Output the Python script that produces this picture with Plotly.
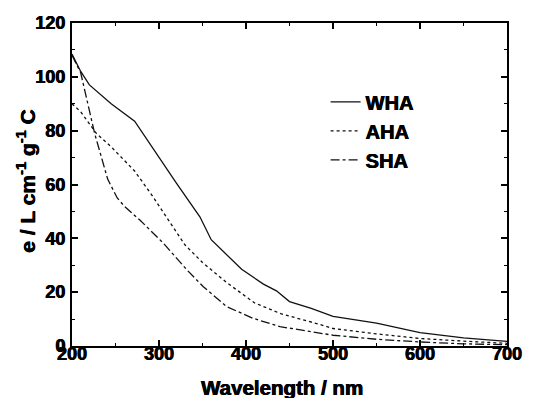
import plotly.graph_objects as go

wha_x = [200, 210, 220, 245, 272, 300, 320, 347, 360, 395, 420, 435, 450, 475, 500, 550, 600, 650, 700]
wha_y = [108.5, 102, 97, 90, 83.5, 70, 60.5, 48, 39.5, 28.5, 23, 20.5, 16.5, 14, 11, 8.5, 5, 3, 1.7]

aha_x = [200, 210, 228, 245, 260, 272, 293, 313, 330, 350, 378, 410, 440, 485, 500, 550, 600, 650, 700]
aha_y = [90, 87, 79, 74, 69, 65, 55.5, 45.5, 37.5, 31, 23.5, 16, 12, 8, 6.5, 4.5, 2.8, 1.8, 1]

sha_x = [200, 210, 226, 241, 252, 260, 278, 305, 332, 351, 378, 408, 439, 485, 500, 550, 600, 650, 700]
sha_y = [108, 101.5, 79, 62, 55, 52, 46.8, 38.2, 28.3, 22, 14.6, 10.3, 7.2, 4.7, 4, 2.5, 1.5, 0.8, 0.5]

names = ["WHA", "AHA", "SHA"]
dashes = ["solid", "dot", "dashdot"]

x_ticks = [200, 300, 400, 500, 600, 700]
y_ticks = [0, 20, 40, 60, 80, 100, 120]

x_title = "Wavelength / nm"
y_title = "e / L cm<sup>-1</sup> g<sup>-1</sup> C"

FONT = "Liberation Sans"
HEAVY = "0.5px 0 0 #000, -0.3px 0 0 #000"

fig = go.Figure()
for nm, xs, ys, d in zip(names, [wha_x, aha_x, sha_x], [wha_y, aha_y, sha_y], dashes):
    fig.add_trace(go.Scatter(x=xs, y=ys, mode="lines", name=nm,
                             line=dict(color="#111111", width=1.3, dash=d)))

axis_common = dict(
    showline=True, linecolor="black", linewidth=2, mirror="ticks",
    ticks="inside", ticklen=6, tickwidth=1.5, tickcolor="black",
    showgrid=False, zeroline=False, automargin=False,
    tickfont=dict(family=FONT, size=18, color="black", weight="bold", shadow=HEAVY),
)

fig.update_xaxes(range=[200, 700], tickvals=x_ticks, ticklabelstandoff=-10,
                 minor=dict(dtick=50, ticks="inside", ticklen=3, tickcolor="black", tickwidth=1.2),
                 **axis_common)
fig.update_yaxes(range=[0, 120], tickvals=y_ticks, ticklabelstandoff=1,
                 minor=dict(dtick=10, ticks="inside", ticklen=3, tickcolor="black", tickwidth=1.2),
                 **axis_common)

fig.add_annotation(text=x_title, xref="paper", yref="paper", x=0.483, y=-0.13,
                   xanchor="center", yanchor="middle", showarrow=False,
                   font=dict(family=FONT, size=20.5, color="black", weight="bold", shadow=HEAVY))
fig.add_annotation(text=y_title, xref="paper", yref="paper", x=-0.106, y=0.511,
                   xanchor="center", yanchor="middle", showarrow=False, textangle=-90,
                   font=dict(family=FONT, size=21, color="black", weight="bold", shadow=HEAVY))

fig.update_layout(
    width=534, height=398,
    margin=dict(l=72, r=27, t=23, b=52),
    paper_bgcolor="white", plot_bgcolor="white",
    showlegend=True,
    legend=dict(x=0.583, y=0.816, xanchor="left", yanchor="top",
                bgcolor="rgba(0,0,0,0)", borderwidth=0,
                font=dict(family=FONT, size=20, color="black", weight="bold", shadow=HEAVY),
                itemwidth=30, tracegroupgap=0),
)

fig.write_html("out.html", config={"displayModeBar": False},
               post_script="document.body.style.margin='0';")
